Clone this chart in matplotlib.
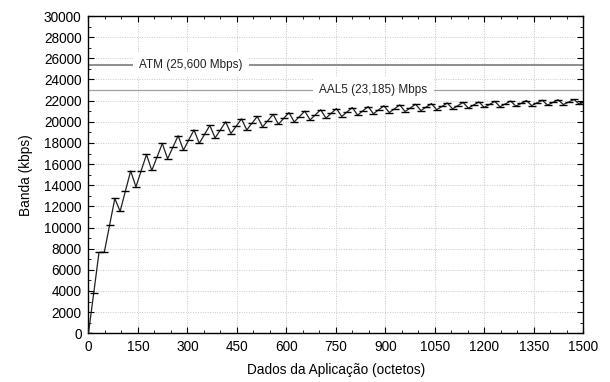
import matplotlib
matplotlib.use("Agg")
import matplotlib.pyplot as plt
from matplotlib.ticker import MultipleLocator

plt.rcParams['font.family'] = ['Liberation Sans', 'DejaVu Sans']

# application data size (octets) and measured bandwidth (kbps)
app_bytes = [0, 16, 32, 48, 64, 80, 96, 112, 128, 144, 160, 176, 192, 208, 224, 240,
             256, 272, 288, 304, 320, 336, 352, 368, 384, 400, 416, 432, 448, 464, 480,
             496, 512, 528, 544, 560, 576, 592, 608, 624, 640, 656, 672, 688, 704, 720,
             736, 752, 768, 784, 800, 816, 832, 848, 864, 880, 896, 912, 928, 944, 960,
             976, 992, 1008, 1024, 1040, 1056, 1072, 1088, 1104, 1120, 1136, 1152, 1168,
             1184, 1200, 1216, 1232, 1248, 1264, 1280, 1296, 1312, 1328, 1344, 1360, 1376,
             1392, 1408, 1424, 1440, 1456, 1472, 1488, 1500]
bandwidth = [0, 3800, 7650, 7660, 10210, 12750, 11530, 13440, 15350, 13850, 15380, 16910,
             15400, 16670, 17950, 16500, 17590, 18680, 17320, 18280, 19230, 17960, 18810,
             19660, 18470, 19230, 20000, 18890, 19580, 20280, 19230, 19870, 20510, 19520,
             20110, 20700, 19770, 20320, 20870, 19990, 20500, 21010, 20180, 20660, 21140,
             20350, 20800, 21250, 20500, 20930, 21350, 20630, 21040, 21440, 20760, 21140,
             21520, 20870, 21230, 21600, 20970, 21310, 21660, 21060, 21390, 21720, 21140,
             21460, 21780, 21220, 21530, 21830, 21290, 21590, 21880, 21360, 21640, 21930,
             21420, 21690, 21970, 21480, 21740, 22010, 21530, 21790, 22040, 21580, 21830,
             22080, 21630, 21870, 22110, 21670, 21850]

atm_level = 25400
aal5_level = 23050
atm_label = "ATM (25,600 Mbps)"
aal5_label = "AAL5 (23,185) Mbps"

fig = plt.figure(figsize=(6.1, 3.82), dpi=100)
ax = fig.add_axes([0.145, 0.1275, 0.811, 0.8305])

ax.axhline(atm_level, color="#858585", lw=1.3, zorder=2)
ax.axhline(aal5_level, color="#a0a0a0", lw=0.9, zorder=2)
box = dict(boxstyle="square,pad=0.55", fc="white", ec="none")
ax.text(311, atm_level, atm_label, ha="center", va="center", fontsize=8.5,
        color="#222222", bbox=box, zorder=2.5)
ax.text(864, aal5_level, aal5_label, ha="center", va="center", fontsize=8.5,
        color="#222222", bbox=box, zorder=2.5)

ax.plot(app_bytes, bandwidth, color="#202020", lw=0.9, marker="_", ms=6,
        mew=1.0, mec="black", zorder=3)

ax.set_xlim(0, 1500)
ax.set_ylim(0, 30000)
ax.xaxis.set_major_locator(MultipleLocator(150))
ax.xaxis.set_minor_locator(MultipleLocator(50))
ax.yaxis.set_major_locator(MultipleLocator(2000))
ax.yaxis.set_minor_locator(MultipleLocator(1000))
ax.tick_params(which="both", direction="in", top=True, right=True,
               labelsize=9.8, colors="black")
ax.tick_params(which="major", length=4, pad=5)
ax.tick_params(which="minor", length=2.5)
ax.grid(True, which="major", color="#c8c8c8", ls=(0, (1, 1.5)), lw=0.7, zorder=1)
ax.set_axisbelow(True)
for s in ax.spines.values():
    s.set_linewidth(1.0)

ax.set_xlabel("Dados da Aplicação (octetos)", fontsize=9.8, labelpad=6)
ax.set_ylabel("Banda (kbps)", fontsize=9.8, labelpad=8)

fig.savefig("out.png", dpi=100)
